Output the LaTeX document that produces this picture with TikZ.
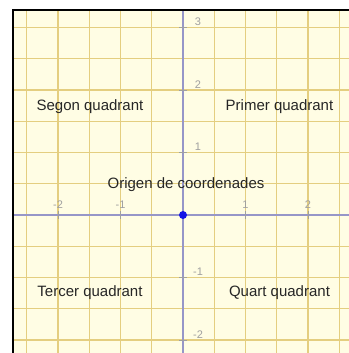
\documentclass[tikz,border=0pt]{standalone}
\usepackage{fontspec}
\setmainfont{Liberation Sans}
\usepackage{xcolor}
\usetikzlibrary{positioning}

\definecolor{paper}{RGB}{255,253,228}
\definecolor{gridline}{RGB}{228,206,128}
\definecolor{axisline}{RGB}{150,150,200}
\definecolor{ticklabel}{RGB}{160,160,160}
\definecolor{dotblue}{RGB}{20,20,230}

\begin{document}
\begin{tikzpicture}[
      x=46.875pt, y=46.875pt,
      quad/.style={font=\fontsize{11.25}{13}\selectfont, text=black!85, inner sep=1pt},
      num/.style={font=\fontsize{8.25}{10}\selectfont, text=ticklabel, inner sep=0.5pt},
      gridl/.style={gridline, line width=0.8pt},
      axisl/.style={axisline, line width=0.8pt}
    ]
      \useasboundingbox (-2.928,-2.208) rectangle (2.656,3.44);
      \fill[white] (-2.928,-2.208) rectangle (2.656,3.44);
      \fill[paper] (-2.72,-2.208) rectangle (2.656,3.28);
      % grid every half unit
      \foreach \g in {-2.5,-2,...,2.5} {
        \draw[gridl] (\g,-2.208) -- (\g,3.28);
      }
      \foreach \g in {-2,-1.5,...,3} {
        \draw[gridl] (-2.72,\g) -- (2.656,\g);
      }
      % axes
      \draw[axisl] (-2.72,0) -- (2.656,0);
      \draw[axisl] (0,-2.208) -- (0,3.28);
      \foreach \k in {-2,-1,1,2} {
        \draw[ticklabel, line width=0.6pt] (\k,-0.06) -- (\k,0.06);
        \node[num] (x\k) at (\k,0.16) {\k};
      }
      \foreach \k in {-2,-1,1,2,3} {
        \draw[ticklabel, line width=0.6pt] (-0.06,\k) -- (0.06,\k);
        \node[num] (y\k) at (0.24,\k+0.09) {\k};
      }
      % border
      \draw[black, line width=1.5pt] (-2.72,-2.208) -- (-2.72,3.28) -- (2.656,3.28);
      % origin and quadrants
      \node[circle, fill=dotblue, inner sep=0pt, minimum size=6pt] (o) at (0,0) {};
      \node[quad] (origen) at (0.048,0.48) {Origen de coordenades};
      \node[quad] (segon) at (-1.488,1.728) {Segon quadrant};
      \node[quad] (primer) at (1.544,1.728) {Primer quadrant};
      \node[quad] (tercer) at (-1.488,-1.248) {Tercer quadrant};
      \node[quad] (quart) at (1.544,-1.248) {Quart quadrant};
    \end{tikzpicture}
\end{document}
